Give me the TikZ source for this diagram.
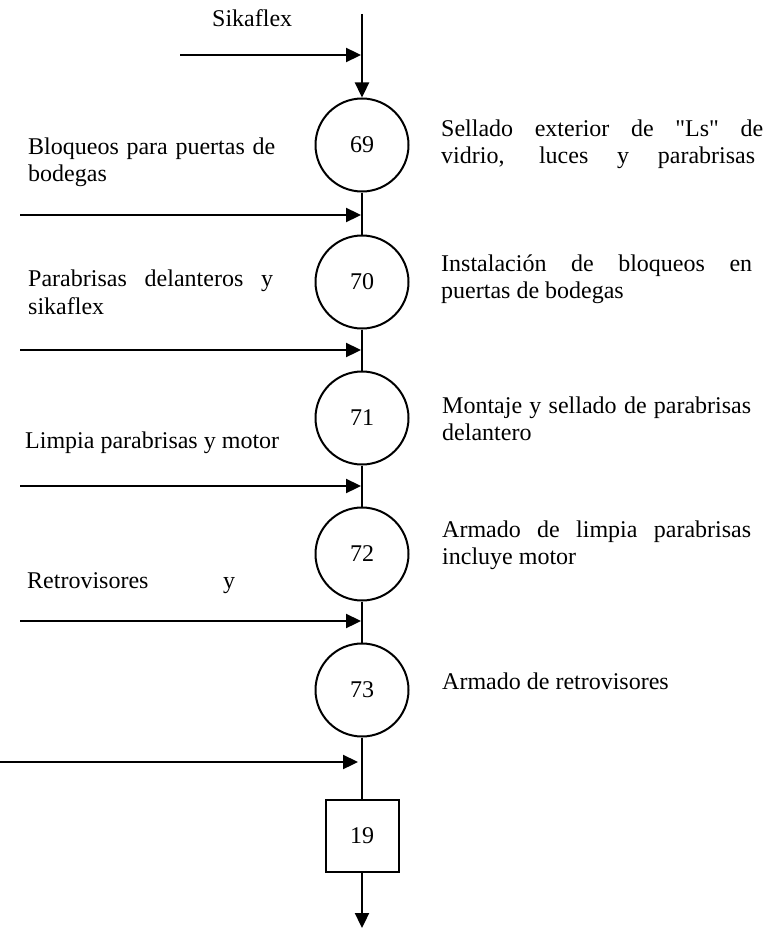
\documentclass[tikz,border=0pt]{standalone}
\usepackage{fontspec}
\setmainfont{Liberation Serif}[Ligatures=TeXOff]
\usetikzlibrary{arrows.meta}
\begin{document}
\begin{tikzpicture}[x=1pt,y=-1pt,
  txt/.style={font=\fontsize{24}{28}\selectfont},
  flow/.style={line width=2.3pt},
  arr/.style={flow,-{Triangle[length=15pt,width=14pt]}},
  opcircle/.style={circle,draw,line width=2pt,minimum size=93pt,inner sep=0pt,txt},
  opbox/.style={rectangle,draw,line width=2pt,minimum width=73pt,minimum height=72pt,inner sep=0pt,txt},
  lbl/.style={anchor=base west,inner sep=0pt,txt}]

\useasboundingbox (0,0) rectangle (781,936);

% operations on the main line
\node[opcircle] (c69) at (362,145) {69};
\node[opcircle] (c70) at (362,282) {70};
\node[opcircle] (c71) at (362,418) {71};
\node[opcircle] (c72) at (362,554) {72};
\node[opcircle] (c73) at (362,690) {73};
\node[opbox]    (b19) at (362,836) {19};

\coordinate (top) at (362,14);
\coordinate (bottom) at (362,928);

% main line
\draw[arr] (top) -- (c69.north);
\draw[flow] (c69.south) -- (c70.north);
\draw[flow] (c70.south) -- (c71.north);
\draw[flow] (c71.south) -- (c72.north);
\draw[flow] (c72.south) -- (c73.north);
\draw[flow] (c73.south) -- (b19.north);
\draw[arr] (b19.south) -- (bottom);

% incoming materials
\coordinate (s1) at (180,55);  \coordinate (j1) at (361,55);
\coordinate (s2) at (20,215);  \coordinate (j2) at (361,215);
\coordinate (s3) at (20,350);  \coordinate (j3) at (361,350);
\coordinate (s4) at (20,486);  \coordinate (j4) at (361,486);
\coordinate (s5) at (20,621);  \coordinate (j5) at (361,621);
\coordinate (s6) at (0,762);   \coordinate (j6) at (358,762);
\draw[arr] (s1) -- (j1);
\draw[arr] (s2) -- (j2);
\draw[arr] (s3) -- (j3);
\draw[arr] (s4) -- (j4);
\draw[arr] (s5) -- (j5);
\draw[arr] (s6) -- (j6);

% material labels
\node[lbl] (m1)  at (212,27)  {Sikaflex};
\node[lbl] (m2a) at (28,155)  {\makebox[247pt][s]{Bloqueos para puertas de}};
\node[lbl] (m2b) at (28,182)  {bodegas};
\node[lbl] (m3a) at (28,286)  {\makebox[245pt][s]{Parabrisas delanteros y}};
\node[lbl] (m3b) at (28,314)  {sikaflex};
\node[lbl] (m4)  at (25,448)  {Limpia parabrisas y motor};
\node[lbl] (m5)  at (27,588)  {\makebox[208pt][s]{Retrovisores y}};

% operation descriptions
\node[lbl] (d69a) at (441,137) {\makebox[322pt][s]{Sellado exterior de "Ls" de}};
\node[lbl] (d69b) at (441,164) {\makebox[314pt][s]{vidrio, luces y parabrisas}};
\node[lbl] (d70a) at (441,271) {\makebox[311pt][s]{Instalación de bloqueos en}};
\node[lbl] (d70b) at (441,298) {puertas de bodegas};
\node[lbl] (d71a) at (442,413) {\makebox[309pt][s]{Montaje y sellado de parabrisas}};
\node[lbl] (d71b) at (442,440) {delantero};
\node[lbl] (d72a) at (442,537) {\makebox[309pt][s]{Armado de limpia parabrisas}};
\node[lbl] (d72b) at (442,564) {incluye motor};
\node[lbl] (d73)  at (442,689) {Armado de retrovisores};
\end{tikzpicture}
\end{document}
